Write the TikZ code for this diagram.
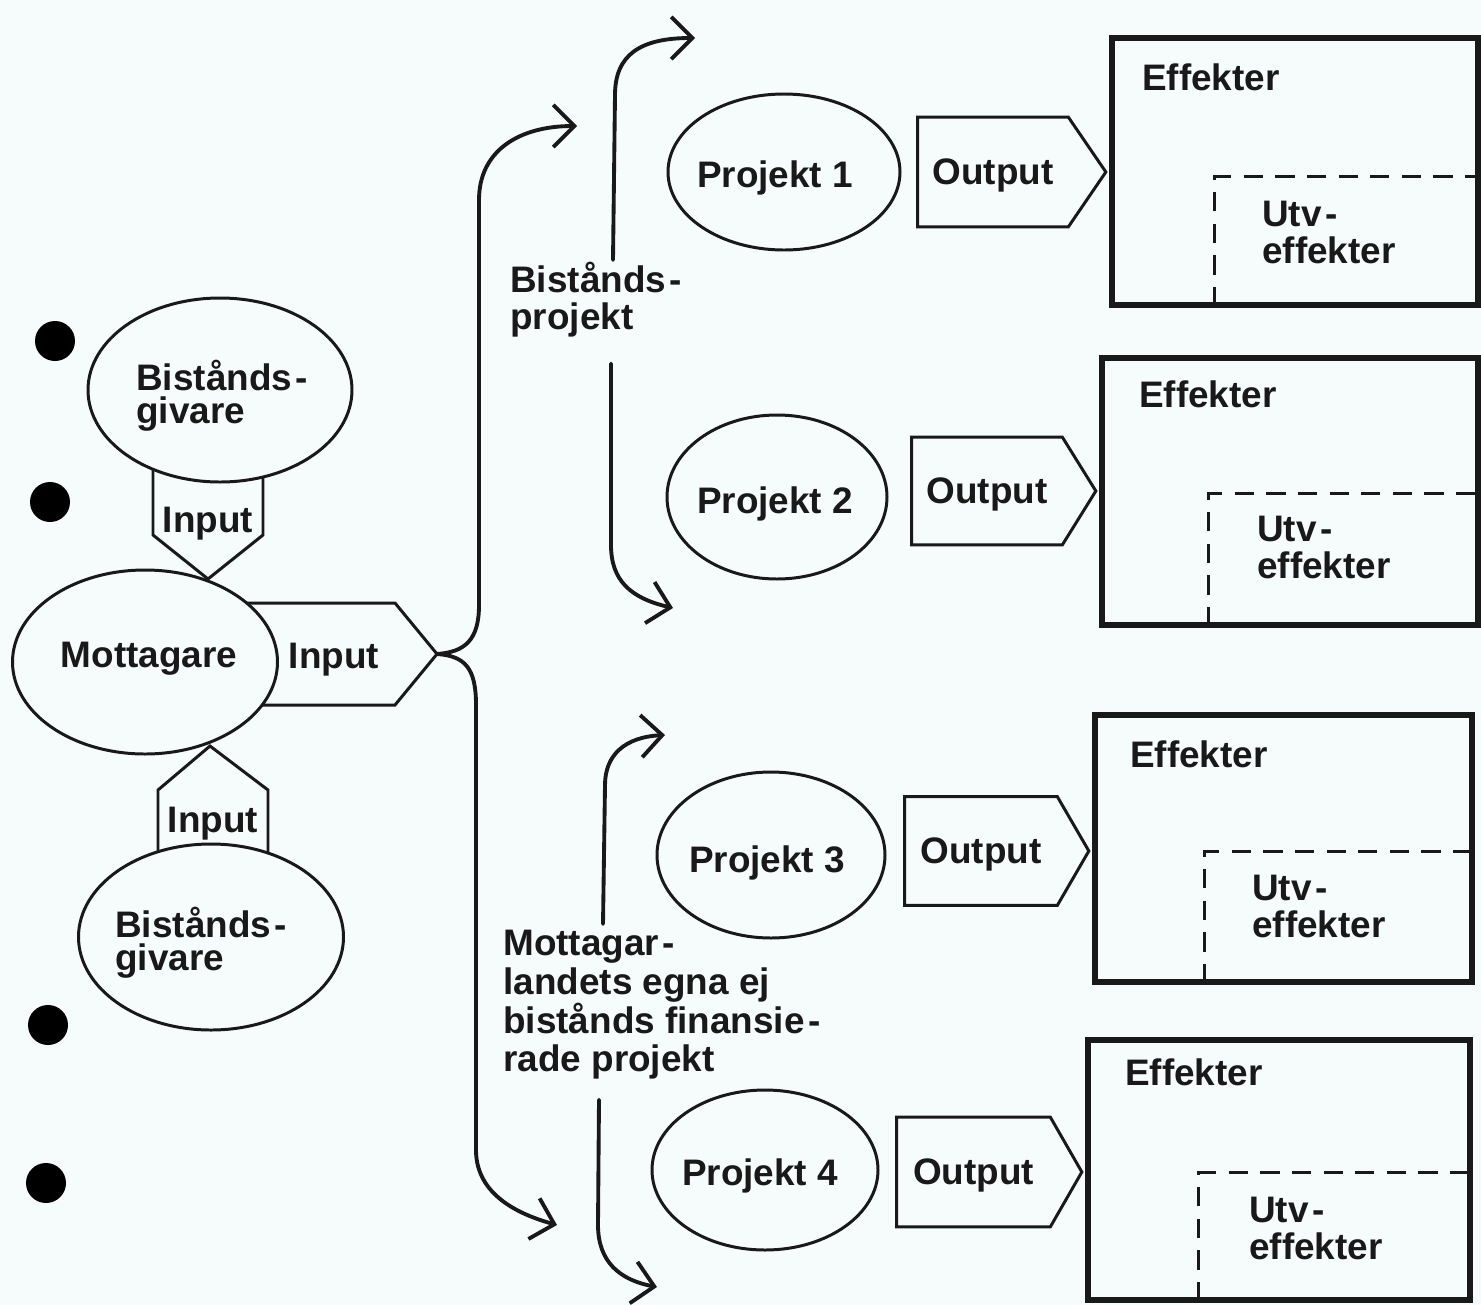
\documentclass[tikz,border=0pt]{standalone}
\usepackage{fontspec}
\setmainfont{Liberation Sans}
\usetikzlibrary{arrows.meta,calc,shapes.geometric}
\newcommand\pxu{0.02cm}
\definecolor{paper}{rgb}{0.965,0.985,0.985}
\definecolor{ink}{rgb}{0.1,0.1,0.1}
\begin{document}
\begin{tikzpicture}[x=0.02cm,y=-0.02cm,
  lbl/.style={text=ink, font=\fontsize{21}{19}\selectfont\bfseries, align=left, inner sep=0pt},
  one/.style={lbl, text depth=0pt},
  lbltwo/.style={lbl, font=\fontsize{21}{21}\selectfont\bfseries},
  lblfour/.style={lbl, font=\fontsize{21}{22}\selectfont\bfseries},
  oval/.style={ellipse, draw=ink, line width=1.7pt, fill=paper, inner sep=0pt},
  shp/.style={draw=ink, line width=1.7pt, line join=miter, fill=paper},
  effbox/.style={draw=ink, line width=3.6pt, inner sep=0pt},
  dsh/.style={draw=ink, line width=1.6pt, dash pattern=on 11pt off 7pt},
  flow/.style={draw=ink, line width=2.2pt, line cap=round,
    -{Straight Barb[length=12pt,width=24pt,line width=2.2pt]}},
  punch/.style={circle, fill=black, minimum size=40*\pxu, inner sep=0pt}
]
\fill[paper] (0,0) rectangle (1481,1305);
\useasboundingbox (0,0) rectangle (1481,1305);

% binder holes
\node[punch] (h1) at (55,341) {};
\node[punch] (h2) at (50,502) {};
\node[punch] (h3) at (48,1025) {};
\node[punch] (h4) at (46,1183) {};

% input arrows (drawn first, the ovals cover their hidden ends)
\draw[shp] (153,450) -- (153,535) -- (208,579) -- (263,535) -- (263,450);
\draw[shp] (230,603) -- (395,603) -- (437,654) -- (395,705) -- (230,705);
\draw[shp] (158,880) -- (158,790) -- (210,746) -- (268,790) -- (268,880);
\coordinate (inRtip) at (437,654);

% donors and recipient
\node[oval, minimum width=264*\pxu, minimum height=184*\pxu] (giv1) at (220,390) {};
\node[lbl, anchor=west] (giv1t) at (136,396) {Bistånds\kern2pt-\\givare};
\node[oval, minimum width=265*\pxu, minimum height=184*\pxu] (mott) at (145,662) {};
\node[one] (mottt) at (149,655) {Mottagare};
\node[oval, minimum width=265*\pxu, minimum height=186*\pxu] (giv2) at (211,937) {};
\node[lbl, anchor=west] (giv2t) at (115,943) {Bistånds\kern2pt-\\givare};

\node[one] (inTt) at (208,520) {Input};
\node[one] (inRt) at (334,656) {Input};
\node[one] (inBt) at (213,820) {Input};

% projects
\node[oval, minimum width=232*\pxu, minimum height=156*\pxu] (p1) at (784,172) {};
\node[one] (p1t) at (775,174) {Projekt 1};
\node[oval, minimum width=220*\pxu, minimum height=164*\pxu] (p2) at (777,497) {};
\node[one] (p2t) at (775,500) {Projekt 2};
\node[oval, minimum width=228*\pxu, minimum height=166*\pxu] (p3) at (771,855) {};
\node[one] (p3t) at (767,859) {Projekt 3};
\node[oval, minimum width=226*\pxu, minimum height=160*\pxu] (p4) at (765,1170) {};
\node[one] (p4t) at (760,1172) {Projekt 4};

% effect boxes
\node[effbox, minimum width=366*\pxu, minimum height=267*\pxu] (eff1) at (1295,171.5) {};
\node[effbox, minimum width=376*\pxu, minimum height=267*\pxu] (eff2) at (1290,491.5) {};
\node[effbox, minimum width=377*\pxu, minimum height=267*\pxu] (eff3) at (1283.5,848.5) {};
\node[effbox, minimum width=382*\pxu, minimum height=260*\pxu] (eff4) at (1279,1170) {};

\foreach \e/\dx/\dy in {eff1/106/142, eff2/110/139, eff3/113/140, eff4/114/136}{
  \draw[dsh] ($(\e.south west)+(\dx,-2)$) -- ($(\e.north west)+(\dx,\dy)$)
             -- ($(\e.north east)+(-2,\dy)$);
}
\node[lbl, anchor=west] (e1t) at ($(eff1.north west)+(33,42)$) {Effekter};
\node[lbl, anchor=west] (e2t) at ($(eff2.north west)+(40,39)$) {Effekter};
\node[lbl, anchor=west] (e3t) at ($(eff3.north west)+(38,42)$) {Effekter};
\node[lbl, anchor=west] (e4t) at ($(eff4.north west)+(40,35)$) {Effekter};
\node[lbltwo, anchor=west] (u1t) at ($(eff1.north west)+(153,198)$) {Utv\kern2pt-\\effekter};
\node[lbltwo, anchor=west] (u2t) at ($(eff2.north west)+(158,193)$) {Utv\kern2pt-\\effekter};
\node[lbltwo, anchor=west] (u3t) at ($(eff3.north west)+(160,195)$) {Utv\kern2pt-\\effekter};
\node[lbltwo, anchor=west] (u4t) at ($(eff4.north west)+(164,192)$) {Utv\kern2pt-\\effekter};

% outputs pointing into the effect boxes
\node[one, minimum width=150*\pxu, minimum height=109*\pxu] (o1) at (993,172) {Output};
\node[one, minimum width=150*\pxu, minimum height=107*\pxu] (o2) at (987,491) {Output};
\node[one, minimum width=152*\pxu, minimum height=108*\pxu] (o3) at (981,851) {Output};
\node[one, minimum width=153*\pxu, minimum height=109*\pxu] (o4) at (973.5,1172) {Output};
\foreach \o/\e in {o1/eff1, o2/eff2, o3/eff3, o4/eff4}{
  \draw[shp, fill=none] (\o.north west) -- (\o.north east) -- ($(\o.east -| \e.west)+(-3,0)$)
     -- (\o.south east) -- (\o.south west) -- cycle;
}

% group labels
\node[lbltwo, anchor=north west] (bp) at (510,262) {Bistånds\kern2pt-\\projekt};
\node[lblfour, anchor=north west] (mp) at (503,930) {Mottagar\kern2pt-\\landets egna ej\\bistånds finansie\kern2pt-\\rade projekt};

% arrow ends
\coordinate (aBP) at (577,126);
\coordinate (aMP) at (557,1225);
\coordinate (a1) at (695,38);
\coordinate (a2) at (673,608);
\coordinate (a3) at (665,735);
\coordinate (a4) at (657,1287);

% flows from the recipient's input
\draw[flow] (inRtip) .. controls (465,652) and (479,640) .. (479,605)
   -- (479,200) .. controls (479,150) and (520,126) .. (aBP);
\draw[flow] (inRtip) .. controls (465,656) and (476,668) .. (476,705)
   -- (476,1150) .. controls (476,1190) and (510,1212) .. (aMP);

% brackets round the project groups
\draw[flow] ($(bp.north west)+(103,-2)$) -- (615,95) .. controls (615,55) and (640,38) .. (a1);
\draw[flow] ($(bp.south west)+(101,26)$) -- (611,545) .. controls (611,580) and (630,598) .. (a2);
\draw[flow] ($(mp.north west)+(100,-6)$) -- (605,785) .. controls (605,755) and (625,737) .. (a3);
\draw[flow] ($(mp.south west)+(96,20)$) -- (598,1225) .. controls (598,1262) and (620,1280) .. (a4);
\end{tikzpicture}
\end{document}
